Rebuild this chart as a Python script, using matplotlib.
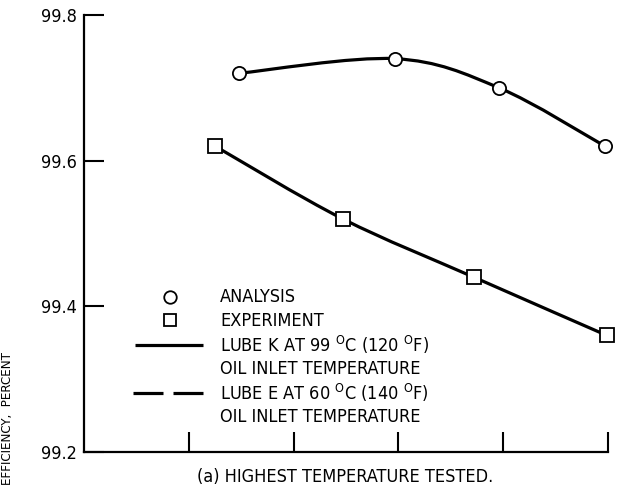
import matplotlib
matplotlib.use("Agg")
import matplotlib.pyplot as plt
import numpy as np
from matplotlib.path import Path
from matplotlib.patches import PathPatch
from matplotlib.lines import Line2D
from matplotlib import font_manager

names = {f.name for f in font_manager.fontManager.ttflist}
stretch = 'normal'
if 'Liberation Sans Narrow' in names:
    fam = 'Liberation Sans Narrow'
elif any(f.name == 'DejaVu Sans' and f.stretch == 'condensed' for f in font_manager.fontManager.ttflist):
    fam = 'DejaVu Sans'
    stretch = 'condensed'
elif 'DejaVu Sans Condensed' in names:
    fam = 'DejaVu Sans Condensed'
else:
    fam = 'Liberation Sans'

plt.rcParams['font.family'] = [fam, 'DejaVu Sans']
plt.rcParams['font.stretch'] = stretch
plt.rcParams['mathtext.fontset'] = 'custom'
plt.rcParams['mathtext.rm'] = fam

# Data
analysis_x = [1.48, 2.97, 3.96, 4.97]
analysis_y = [99.72, 99.74, 99.70, 99.62]
experiment_x = [1.25, 2.47, 3.72, 4.99]
experiment_y = [99.62, 99.52, 99.44, 99.36]
yticks = [99.2, 99.4, 99.6, 99.8]
ytick_labels = ["99.2", "99.4", "99.6", "99.8"]
xticks = [1, 2, 3, 4, 5]
xlabel = "(a) HIGHEST TEMPERATURE TESTED."
ylabel = "EFFICIENCY,  PERCENT"
legend_labels = ["ANALYSIS", "EXPERIMENT",
                 "LUBE K AT 99 $^\\mathrm{O}$C (120 $^\\mathrm{O}$F)", "OIL INLET TEMPERATURE",
                 "LUBE E AT 60 $^\\mathrm{O}$C (140 $^\\mathrm{O}$F)", "OIL INLET TEMPERATURE"]

FS = 13

def smooth_path(xs, ys):
    pts = np.column_stack([xs, ys]).astype(float)
    n = len(pts)
    verts = [pts[0]]
    codes = [Path.MOVETO]
    for i in range(n - 1):
        p0 = pts[i - 1] if i > 0 else pts[i]
        p1 = pts[i]
        p2 = pts[i + 1]
        p3 = pts[i + 2] if i + 2 < n else pts[i + 1]
        c1 = p1 + (p2 - p0) / 6.0
        c2 = p2 - (p3 - p1) / 6.0
        verts += [c1, c2, p2]
        codes += [Path.CURVE4] * 3
    return Path(verts, codes)

fig = plt.figure(figsize=(6.21, 4.87), dpi=100)
ax = fig.add_axes([84/621, 1-452/487, 524/621, 437/487])
ax.set_xlim(0, 5)
ax.set_ylim(99.2, 99.8)

for xs, ys, mk in [(analysis_x, analysis_y, 'o'), (experiment_x, experiment_y, 's')]:
    ax.add_patch(PathPatch(smooth_path(xs, ys), fill=False, edgecolor='black', lw=2.3, zorder=2))
    ax.plot(xs, ys, linestyle='none', marker=mk, markersize=9.5,
            markerfacecolor='white', markeredgecolor='black', markeredgewidth=1.3,
            zorder=3, clip_on=False)

for s in ['top', 'right']:
    ax.spines[s].set_visible(False)
for s in ['left', 'bottom']:
    ax.spines[s].set_linewidth(1.6)

ax.set_xticks(xticks)
ax.set_xticklabels([])
ax.set_yticks(yticks)
ax.set_yticklabels(ytick_labels, fontsize=FS)
ax.tick_params(axis='both', direction='in', length=14.5, width=1.5, pad=5)

fig.text(345/621, 1-477/487, xlabel, ha='center', va='center', fontsize=FS)
fig.text(8/621, 1-352/487, ylabel, rotation=90, ha='center', va='top', fontsize=9.5)

# Legend (manual)
def ax_xy(px, py):
    return (px - 84) / 524, (452 - py) / 437

def add_line(x0, x1, py):
    a0 = ax_xy(x0, py); a1 = ax_xy(x1, py)
    ax.add_line(Line2D([a0[0], a1[0]], [a0[1], a1[1]], transform=ax.transAxes,
                       color='black', lw=2.3, solid_capstyle='butt'))

cx, cy = ax_xy(170, 297)
ax.plot([cx], [cy], 'o', transform=ax.transAxes, markersize=9, markerfacecolor='white',
        markeredgecolor='black', markeredgewidth=1.3, clip_on=False)
cx, cy = ax_xy(170, 320)
ax.plot([cx], [cy], 's', transform=ax.transAxes, markersize=9, markerfacecolor='white',
        markeredgecolor='black', markeredgewidth=1.3, clip_on=False)
add_line(135, 203, 345)
add_line(133, 163, 393)
add_line(173, 203, 393)

rows_y = [297, 321, 345, 369, 393, 417]
for lab, py in zip(legend_labels, rows_y):
    tx, ty = ax_xy(220, py)
    ax.text(tx, ty, lab, transform=ax.transAxes, ha='left', va='center', fontsize=FS)

fig.savefig("out.png", dpi=100, facecolor='white')
